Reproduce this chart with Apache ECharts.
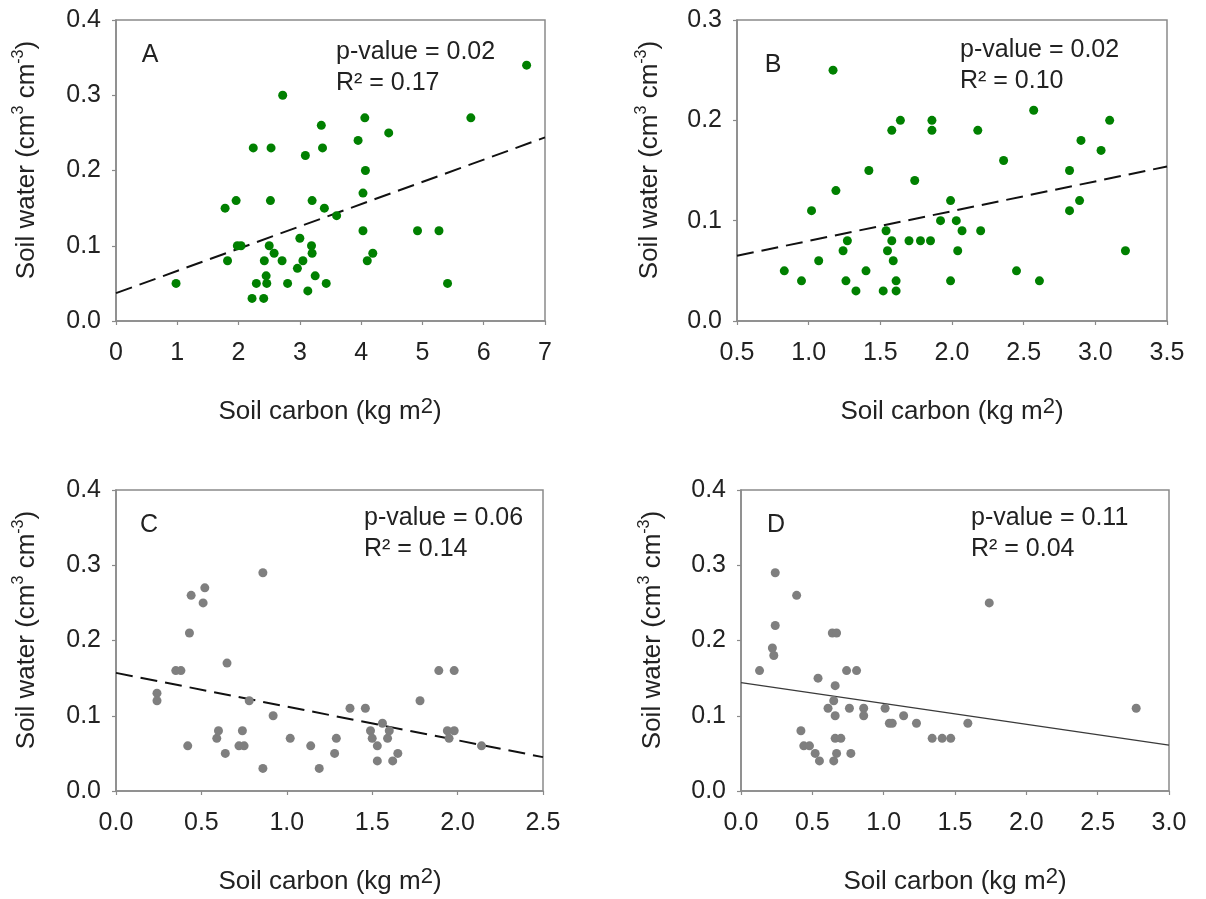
<!DOCTYPE html>
<html>
<head>
<meta charset="utf-8">
<script src="https://cdn.jsdelivr.net/npm/echarts@6/dist/echarts.min.js"></script>
<style>
  html, body { margin: 0; padding: 0; background: #fff; }
  #chart { width: 1206px; height: 899px; }
</style>
</head>
<body>
<div id="chart"></div>
<script>
// Soil water (cm3 cm-3) against soil carbon (kg m2), four sites A-D.
const soilA = [[0.98,0.05],[1.78,0.15],[1.82,0.08],[1.96,0.16],[1.98,0.10],[2.04,0.10],[2.22,0.03],[2.24,0.23],
  [2.29,0.05],[2.41,0.03],[2.42,0.08],[2.45,0.06],[2.46,0.05],[2.50,0.10],[2.52,0.16],[2.53,0.23],[2.58,0.09],
  [2.71,0.08],[2.72,0.30],[2.80,0.05],[2.96,0.07],[3.00,0.11],[3.05,0.08],[3.09,0.22],[3.13,0.04],[3.19,0.10],
  [3.20,0.16],[3.20,0.09],[3.25,0.06],[3.35,0.26],[3.37,0.23],[3.40,0.15],[3.43,0.05],[3.60,0.14],[3.95,0.24],
  [4.03,0.17],[4.03,0.12],[4.06,0.27],[4.07,0.20],[4.10,0.08],[4.19,0.09],[4.45,0.25],[4.92,0.12],[5.27,0.12],
  [5.41,0.05],[5.79,0.27],[6.70,0.34]];
const soilB = [[0.83,0.05],[0.95,0.04],[1.02,0.11],[1.07,0.06],[1.17,0.25],[1.19,0.13],[1.24,0.07],[1.26,0.04],
  [1.27,0.08],[1.33,0.03],[1.40,0.05],[1.42,0.15],[1.52,0.03],[1.54,0.09],[1.55,0.07],[1.58,0.19],[1.58,0.08],
  [1.59,0.06],[1.61,0.04],[1.61,0.03],[1.64,0.20],[1.70,0.08],[1.74,0.14],[1.78,0.08],[1.85,0.08],[1.86,0.20],
  [1.86,0.19],[1.92,0.10],[1.99,0.12],[1.99,0.04],[2.03,0.10],[2.04,0.07],[2.07,0.09],[2.18,0.19],[2.20,0.09],
  [2.36,0.16],[2.45,0.05],[2.57,0.21],[2.61,0.04],[2.82,0.15],[2.82,0.11],[2.89,0.12],[2.90,0.18],[3.04,0.17],
  [3.10,0.20],[3.21,0.07]];
const soilC = [[0.24,0.13],[0.24,0.12],[0.35,0.16],[0.38,0.16],[0.42,0.06],[0.43,0.21],[0.44,0.26],[0.51,0.25],
  [0.52,0.27],[0.59,0.07],[0.60,0.08],[0.64,0.05],[0.65,0.17],[0.72,0.06],[0.75,0.06],[0.74,0.08],[0.78,0.12],
  [0.86,0.29],[0.86,0.03],[0.92,0.10],[1.02,0.07],[1.14,0.06],[1.19,0.03],[1.28,0.05],[1.29,0.07],[1.37,0.11],
  [1.46,0.11],[1.49,0.08],[1.50,0.07],[1.53,0.06],[1.53,0.04],[1.56,0.09],[1.59,0.07],[1.60,0.08],[1.62,0.04],
  [1.65,0.05],[1.78,0.12],[1.89,0.16],[1.94,0.08],[1.98,0.08],[1.95,0.07],[1.98,0.16],[2.14,0.06]];
const soilD = [[0.13,0.16],[0.22,0.19],[0.23,0.18],[0.24,0.29],[0.24,0.22],[0.39,0.26],[0.42,0.08],[0.44,0.06],
  [0.48,0.06],[0.52,0.05],[0.54,0.15],[0.55,0.04],[0.61,0.11],[0.64,0.21],[0.67,0.21],[0.65,0.12],[0.65,0.04],
  [0.66,0.14],[0.66,0.10],[0.66,0.07],[0.67,0.05],[0.70,0.07],[0.74,0.16],[0.76,0.11],[0.77,0.05],[0.81,0.16],
  [0.86,0.11],[0.86,0.10],[1.01,0.11],[1.04,0.09],[1.06,0.09],[1.14,0.10],[1.23,0.09],[1.34,0.07],[1.41,0.07],
  [1.47,0.07],[1.59,0.09],[1.74,0.25],[2.77,0.11]];

// Fitted regression lines (end points)
const trendA = [[0, 0.037], [7, 0.244]];
const trendB = [[0.5, 0.065], [3.5, 0.154]];
const trendC = [[0, 0.157], [2.5, 0.045]];
const trendD = [[0, 0.144], [3, 0.061]];

const panelLetters = ['A', 'B', 'C', 'D'];
const pValues = ['p-value = 0.02', 'p-value = 0.02', 'p-value = 0.06', 'p-value = 0.11'];
const rSquared = ['R\u00B2 = 0.17', 'R\u00B2 = 0.10', 'R\u00B2 = 0.14', 'R\u00B2 = 0.04'];

// Axis ranges: [min, max, interval, decimals]
const xRanges = [[0, 7, 1, 0], [0.5, 3.5, 0.5, 1], [0, 2.5, 0.5, 1], [0, 3, 0.5, 1]];
const yRanges = [[0, 0.4, 0.1, 1], [0, 0.3, 0.1, 1], [0, 0.4, 0.1, 1], [0, 0.4, 0.1, 1]];

const FONT = '"Liberation Sans", Arial, sans-serif';
const AXIS_GREY = '#8a8a8a';
const TEXT = '#222222';

const grids = [
  { left: 116, top: 20, width: 429, height: 301 },
  { left: 737, top: 20, width: 430, height: 301 },
  { left: 116, top: 490, width: 427, height: 301 },
  { left: 741, top: 490, width: 428, height: 301 }
];

function axisCommon(range, isX) {
  return {
    type: 'value',
    min: range[0], max: range[1], interval: range[2],
    axisLine: { show: true, onZero: false, lineStyle: { color: AXIS_GREY, width: 1.5 } },
    axisTick: { show: true, inside: false, length: 4, lineStyle: { color: AXIS_GREY, width: 1.2 } },
    splitLine: { show: false },
    axisLabel: {
      color: TEXT, fontFamily: FONT, fontSize: 25,
      margin: isX ? 20 : 15,
      formatter: v => v.toFixed(range[3])
    }
  };
}

const xAxes = xRanges.map((r, i) => Object.assign(axisCommon(r, true), { gridIndex: i }));
const yAxes = yRanges.map((r, i) => Object.assign(axisCommon(r, false), { gridIndex: i }));

const pointSets = [soilA, soilB, soilC, soilD];
const trendSets = [trendA, trendB, trendC, trendD];
const dotColors = ['#008000', '#008000', '#7f7f7f', '#7f7f7f'];
const lineStyles = [
  { color: '#111', width: 2, type: [17, 8] },
  { color: '#111', width: 2, type: [17, 8] },
  { color: '#111', width: 2, type: [17, 8] },
  { color: '#3a3a3a', width: 1.3, type: 'solid' }
];

const series = [];
pointSets.forEach((pts, i) => {
  series.push({
    type: 'line', xAxisIndex: i, yAxisIndex: i, data: trendSets[i],
    showSymbol: false, symbol: 'none', silent: true, z: 2,
    lineStyle: lineStyles[i]
  });
  series.push({
    type: 'scatter', xAxisIndex: i, yAxisIndex: i, data: pts,
    symbol: 'circle', symbolSize: 9, z: 3,
    itemStyle: { color: dotColors[i], opacity: 1 }
  });
});

// Text annotations: panel letters, statistics and axis titles
const richTitle = {
  a: { fontFamily: FONT, fontSize: 26, lineHeight: 32, fill: TEXT, color: TEXT },
  s: { fontFamily: FONT, fontSize: 16, lineHeight: 16, verticalAlign: 'top', fill: TEXT, color: TEXT },
  s2: { fontFamily: FONT, fontSize: 22, lineHeight: 22, verticalAlign: 'top', fill: TEXT, color: TEXT }
};

const letterPos = [[150, 55], [773, 65], [149, 525], [776, 525]];
const statPos = [[336, 52], [960, 50], [364, 518], [971, 518]];
const xTitlePos = [[330, 412], [952, 412], [330, 882], [955, 882]];
const yTitlePos = [[27, 160], [650, 160], [27, 630], [653, 630]];

const graphic = [];
for (let i = 0; i < 4; i++) {
  graphic.push({
    type: 'text', x: letterPos[i][0], y: letterPos[i][1], silent: true,
    style: { text: panelLetters[i], font: '25px ' + FONT, fill: TEXT, align: 'center', verticalAlign: 'middle' }
  });
  graphic.push({
    type: 'text', x: statPos[i][0], y: statPos[i][1], silent: true,
    style: { text: pValues[i], font: '25px ' + FONT, fill: TEXT, align: 'left', verticalAlign: 'middle' }
  });
  graphic.push({
    type: 'text', x: statPos[i][0], y: statPos[i][1] + 31, silent: true,
    style: { text: rSquared[i], font: '25px ' + FONT, fill: TEXT, align: 'left', verticalAlign: 'middle' }
  });
  graphic.push({
    type: 'text', x: xTitlePos[i][0], y: xTitlePos[i][1], silent: true,
    style: {
      text: '{a|Soil carbon (kg m}{s2|2}{a|)}', rich: richTitle,
      align: 'center', verticalAlign: 'middle', fill: TEXT
    }
  });
  graphic.push({
    type: 'text', x: yTitlePos[i][0], y: yTitlePos[i][1], rotation: Math.PI / 2, silent: true,
    style: {
      text: '{a|Soil water (cm}{s|3}{a| cm}{s|-3}{a|)}', rich: richTitle,
      align: 'center', verticalAlign: 'middle', fill: TEXT
    }
  });
}

const chart = echarts.init(document.getElementById('chart'), null, { renderer: 'canvas' });
chart.setOption({
  animation: false,
  backgroundColor: '#ffffff',
  grid: grids.map(g => Object.assign({ show: true, borderColor: AXIS_GREY, borderWidth: 1.5, backgroundColor: 'transparent' }, g)),
  xAxis: xAxes,
  yAxis: yAxes,
  series: series,
  graphic: graphic
});
</script>
</body>
</html>
